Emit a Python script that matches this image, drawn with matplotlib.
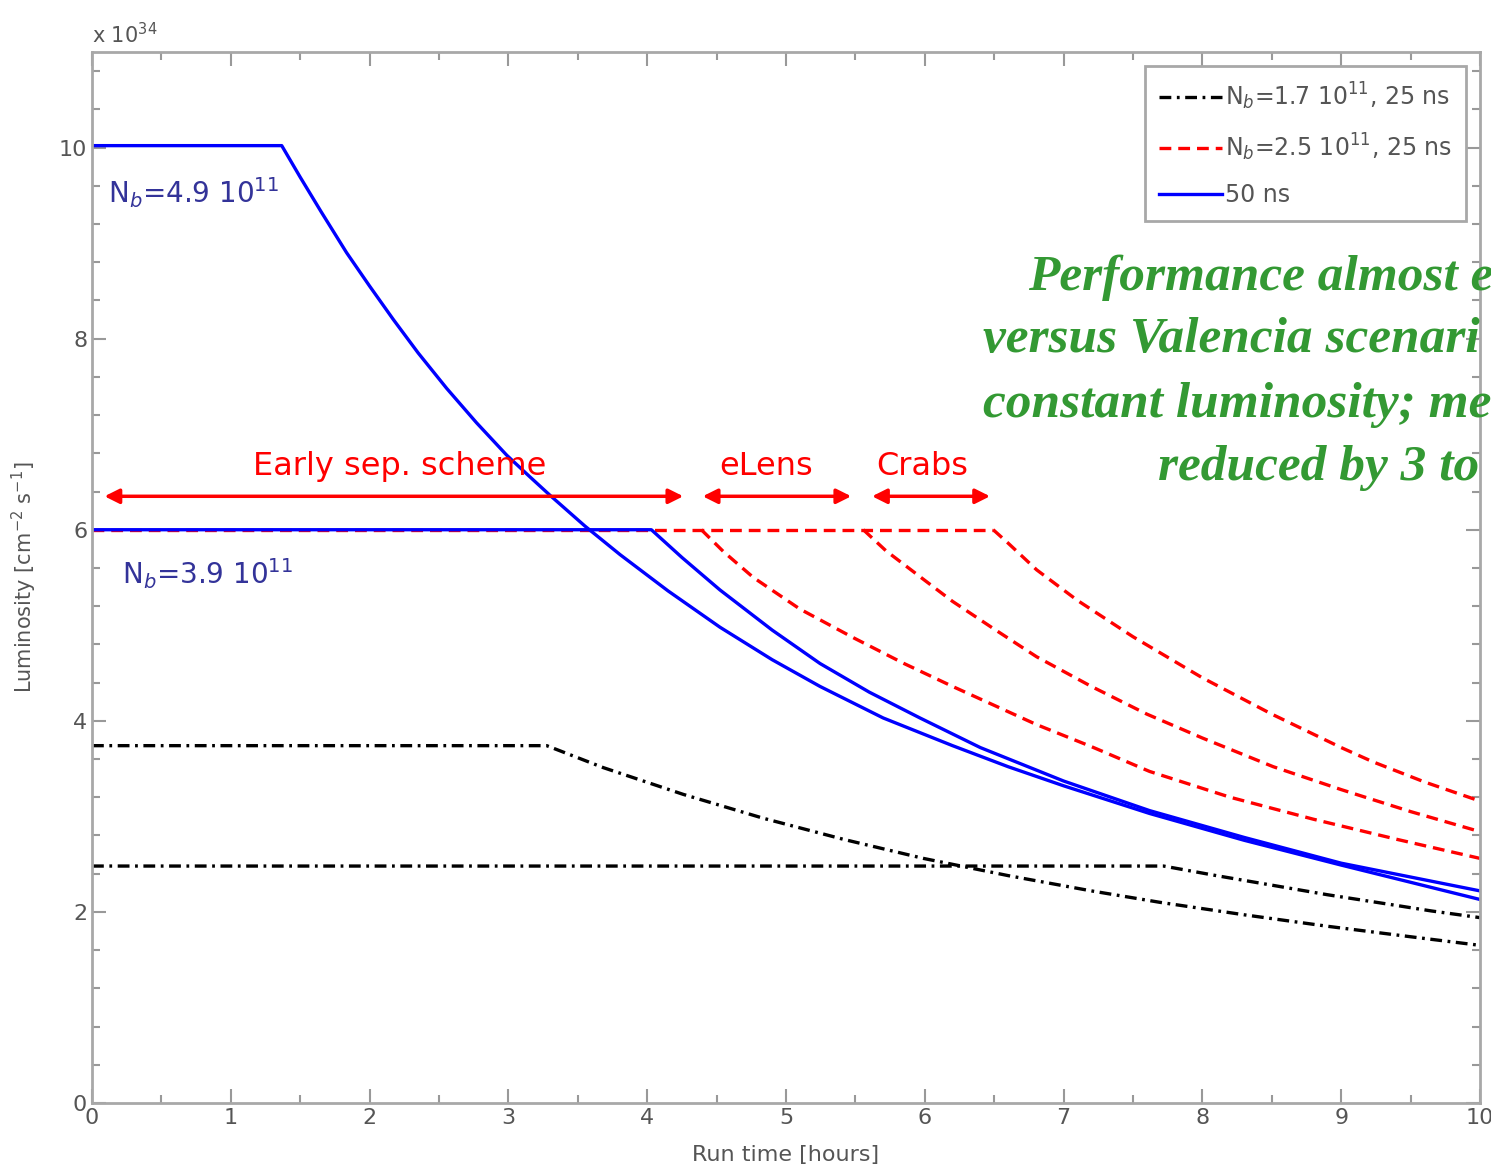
import matplotlib
matplotlib.use('Agg')
import matplotlib.pyplot as plt
from matplotlib.ticker import MultipleLocator

plt.rcParams['font.family'] = ['DejaVu Sans']
plt.rcParams['lines.scale_dashes'] = False

# luminosity in units of 1e34 cm^-2 s^-1, time in hours
# 50 ns, N_b = 4.9e11 (levelled at 10)
blue1_t = [0, 1.367, 1.5, 1.65, 1.834, 2.0, 2.171, 2.35, 2.555, 2.77, 2.988, 3.15, 3.3,
           3.55, 3.804, 4.15, 4.524, 4.9, 5.245, 5.7, 6.2, 6.6, 7.0, 7.62, 8.3, 9.0, 10.0]
blue1_l = [10.02, 10.02, 9.69, 9.33, 8.90, 8.55, 8.20, 7.85, 7.48, 7.12, 6.78, 6.56, 6.36,
           6.04, 5.74, 5.36, 4.98, 4.64, 4.36, 4.03, 3.74, 3.52, 3.32, 3.03, 2.75, 2.49, 2.13]
# 50 ns, N_b = 3.9e11 (levelled at 6)
blue2_t = [0, 4.03, 4.25, 4.524, 4.9, 5.245, 5.6, 5.965, 6.4, 7.0, 7.62, 8.3, 9.0, 10.0]
blue2_l = [6.0, 6.0, 5.71, 5.37, 4.95, 4.60, 4.30, 4.03, 3.72, 3.37, 3.06, 2.78, 2.51, 2.22]

# 25 ns, N_b = 2.5e11 : early sep. / eLens / crabs
red_flat_t = [0, 6.493]
red_flat_l = [6.0, 6.0]
redA_t = [4.39, 4.55, 4.765, 5.1, 5.485, 5.85, 6.2, 6.806, 7.2, 7.62, 8.2, 8.8, 9.4, 10.0]
redA_l = [6.0, 5.77, 5.50, 5.17, 4.87, 4.60, 4.36, 3.96, 3.73, 3.47, 3.20, 2.97, 2.76, 2.56]
redB_t = [5.557, 5.72, 6.0, 6.2, 6.5, 6.806, 7.2, 7.6, 8.0, 8.51, 9.0, 9.5, 10.0]
redB_l = [6.0, 5.78, 5.47, 5.25, 4.96, 4.67, 4.36, 4.07, 3.82, 3.52, 3.28, 3.05, 2.84]
redC_t = [6.493, 6.6, 6.806, 7.1, 7.5, 8.0, 8.5, 9.0, 9.23, 9.6, 10.0]
redC_l = [6.0, 5.86, 5.58, 5.26, 4.88, 4.45, 4.07, 3.72, 3.57, 3.36, 3.16]

# 25 ns, N_b = 1.7e11
black1_t = [0, 3.276, 3.684, 4.26, 4.837, 5.413, 5.99, 6.6, 7.2, 7.695, 8.3, 8.9, 9.5, 10.0]
black1_l = [3.74, 3.74, 3.51, 3.23, 2.98, 2.76, 2.56, 2.38, 2.22, 2.10, 1.97, 1.85, 1.74, 1.65]
black2_t = [0, 7.72, 8.1, 8.5, 8.9, 9.3, 9.65, 10.0]
black2_l = [2.48, 2.48, 2.38, 2.28, 2.18, 2.09, 2.01, 1.94]

legend_labels = ['N$_b$=1.7 10$^{11}$, 25 ns', 'N$_b$=2.5 10$^{11}$, 25 ns', '50 ns']

# arrows: (label, start, end, text x)
arrows = [('Early sep. scheme', 0.09, 4.26, 2.22),
          ('eLens', 4.40, 5.47, 4.86),
          ('Crabs', 5.62, 6.47, 5.98)]
arrow_y = 6.35
arrow_text_y = 6.66

green_lines = ['Performance almost e', 'versus Valencia scenari',
               'constant luminosity; me', 'reduced by 3 to']
green_x = [1028, 983, 983, 1158]
green_y = [290, 352, 417, 480]

fig = plt.figure(figsize=(14.91, 11.70), dpi=100)
ax = fig.add_axes([92 / 1491, 67 / 1170, (1480 - 92) / 1491, (1103 - 52) / 1170])

dashdot = (8.5, 4, 2, 4)
dashed = (8.5, 5)
lw = 2.4

l_black, = ax.plot(black1_t, black1_l, color='black', lw=lw, dashes=dashdot)
ax.plot(black2_t, black2_l, color='black', lw=lw, dashes=dashdot)
l_red, = ax.plot(red_flat_t, red_flat_l, color='red', lw=lw, dashes=dashed)
ax.plot(redA_t, redA_l, color='red', lw=lw, dashes=dashed)
ax.plot(redB_t, redB_l, color='red', lw=lw, dashes=dashed)
ax.plot(redC_t, redC_l, color='red', lw=lw, dashes=dashed)
l_blue, = ax.plot(blue1_t, blue1_l, color='blue', lw=lw)
ax.plot(blue2_t, blue2_l, color='blue', lw=lw)

ax.set_xlim(0, 10)
ax.set_ylim(0, 11)
ax.xaxis.set_major_locator(MultipleLocator(1))
ax.xaxis.set_minor_locator(MultipleLocator(0.5))
ax.yaxis.set_major_locator(MultipleLocator(2))
ax.yaxis.set_minor_locator(MultipleLocator(0.4))

grey = '#555555'
for s in ax.spines.values():
    s.set_color('#a8a8a8')
    s.set_linewidth(2)
ax.tick_params(which='both', direction='in', top=True, right=True,
               color='#999999', labelcolor=grey, labelsize=16)
ax.tick_params(which='major', length=10, width=1.5)
ax.tick_params(which='minor', length=6, width=1.5)

ax.set_xlabel('Run time [hours]', fontsize=16, color=grey, labelpad=12)
ax.set_ylabel('Luminosity [cm$^{-2}$ s$^{-1}$]', fontsize=15, color=grey, labelpad=14)
fig.text(92 / 1491, 1 - 35 / 1170, 'x 10$^{34}$', fontsize=15, color=grey,
         ha='left', va='center')

leg = ax.legend([l_black, l_red, l_blue], legend_labels, loc='upper right',
                fontsize=17, labelcolor=grey, fancybox=False, framealpha=1,
                edgecolor='#a8a8a8', handlelength=2.7, handletextpad=0.1,
                borderaxespad=0.6, borderpad=0.6, labelspacing=0.85)
leg.get_frame().set_linewidth(2)

ax.text(0.115, 9.53, 'N$_b$=4.9 10$^{11}$', color='#333399', fontsize=20,
        ha='left', va='center')
ax.text(0.216, 5.54, 'N$_b$=3.9 10$^{11}$', color='#333399', fontsize=20,
        ha='left', va='center')

for label, x0, x1, xt in arrows:
    ax.annotate('', xy=(x1, arrow_y), xytext=(x0, arrow_y),
                arrowprops=dict(arrowstyle='<|-|>', color='red', lw=2.5,
                                mutation_scale=22, shrinkA=0, shrinkB=0))
    ax.text(xt, arrow_text_y, label, color='red', fontsize=23,
            ha='center', va='center')

for line, gx, gy in zip(green_lines, green_x, green_y):
    fig.text(gx / 1491, 1 - gy / 1170, line, color='#339933', fontsize=37,
             family='Liberation Serif', style='italic', weight='bold',
             ha='left', va='baseline')

fig.savefig('out.png', dpi=100)
